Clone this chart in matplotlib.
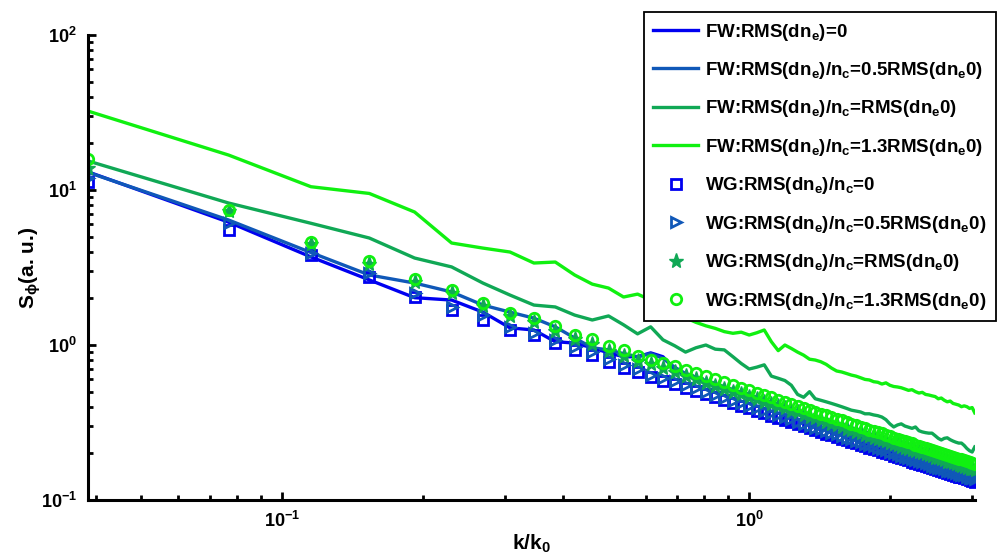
import numpy as np
import matplotlib
matplotlib.use("Agg")
import matplotlib.pyplot as plt

plt.rcParams['font.family'] = ['Liberation Sans', 'DejaVu Sans']
plt.rcParams['font.weight'] = 'bold'
plt.rcParams['mathtext.fontset'] = 'custom'
plt.rcParams['mathtext.rm'] = 'Liberation Sans:bold'
plt.rcParams['mathtext.it'] = 'Liberation Sans:bold'
plt.rcParams['mathtext.bf'] = 'Liberation Sans:bold'

# k/k0 grid (uniform step 1/26)
k = np.arange(1, 80) / 26.0

fw_0 = [13.1, 6.2, 3.7, 2.63, 2.02, 1.95, 1.63, 1.29, 1.25, 1.05,
        1.03, 0.96, 0.89, 0.84, 0.84, 0.89, 0.84, 0.70, 0.64, 0.61,
        0.58, 0.55, 0.52, 0.50, 0.48, 0.455, 0.44, 0.425, 0.41, 0.40,
        0.378, 0.37, 0.357, 0.345, 0.335, 0.326, 0.318, 0.31, 0.30, 0.292,
        0.285, 0.278, 0.27, 0.264, 0.258, 0.252, 0.247, 0.241, 0.236, 0.232,
        0.227, 0.222, 0.218, 0.214, 0.21, 0.206, 0.202, 0.199, 0.195, 0.192,
        0.189, 0.186, 0.183, 0.18, 0.177, 0.174, 0.171, 0.169, 0.166, 0.164,
        0.161, 0.159, 0.157, 0.155, 0.152, 0.15, 0.148, 0.146, 0.144]
fw_05 = [13.0, 6.4, 3.95, 2.83, 2.51, 2.2, 1.81, 1.63, 1.49, 1.31,
         1.11, 0.96, 0.93, 0.88, 0.84, 0.88, 0.82, 0.72, 0.655, 0.62,
         0.59, 0.565, 0.53, 0.51, 0.49, 0.462, 0.45, 0.432, 0.418, 0.40,
         0.39, 0.376, 0.364, 0.352, 0.341, 0.332, 0.324, 0.315, 0.306, 0.298,
         0.29, 0.283, 0.276, 0.27, 0.263, 0.257, 0.252, 0.246, 0.241, 0.236,
         0.231, 0.227, 0.222, 0.218, 0.214, 0.21, 0.206, 0.203, 0.199, 0.196,
         0.193, 0.19, 0.186, 0.183, 0.18, 0.178, 0.175, 0.172, 0.169, 0.167,
         0.164, 0.162, 0.16, 0.158, 0.155, 0.153, 0.151, 0.149, 0.147]
fw_1 = [15.4, 8.24, 6.1, 4.9, 3.64, 3.19, 2.51, 2.1, 1.81, 1.76,
        1.56, 1.45, 1.54, 1.35, 1.18, 1.31, 1.08, 0.99, 0.90, 0.96,
        1.0, 0.94, 0.93, 0.84, 0.76, 0.70, 0.72, 0.745, 0.63, 0.61,
        0.59, 0.55, 0.48, 0.46, 0.50, 0.45, 0.44, 0.43, 0.42, 0.41,
        0.40, 0.39, 0.38, 0.375, 0.37, 0.36, 0.36, 0.354, 0.35, 0.343,
        0.33, 0.31, 0.296, 0.305, 0.31, 0.30, 0.295, 0.29, 0.296, 0.28,
        0.275, 0.272, 0.27, 0.27, 0.26, 0.25, 0.244, 0.25, 0.252, 0.245,
        0.24, 0.236, 0.233, 0.233, 0.225, 0.215, 0.208, 0.204, 0.22]
fw_13 = [32.3, 16.8, 10.5, 9.5, 7.21, 4.55, 4.22, 3.98, 3.38, 3.43,
         2.83, 2.47, 2.33, 2.04, 2.13, 1.95, 1.8, 1.65, 1.5, 1.4,
         1.33, 1.28, 1.22, 1.19, 1.21, 1.16, 1.2, 1.25, 1.05, 0.92,
         1.0, 0.95, 0.90, 0.86, 0.81, 0.80, 0.78, 0.75, 0.71, 0.68,
         0.67, 0.655, 0.64, 0.63, 0.615, 0.60, 0.595, 0.58, 0.575, 0.56,
         0.57, 0.55, 0.54, 0.536, 0.53, 0.52, 0.51, 0.515, 0.50, 0.49,
         0.495, 0.48, 0.476, 0.47, 0.465, 0.45, 0.455, 0.44, 0.43, 0.435,
         0.42, 0.415, 0.41, 0.40, 0.405, 0.40, 0.39, 0.395, 0.365]

wg_0 = [11.3, 5.5, 3.8, 2.75, 2.04, 1.68, 1.45, 1.25, 1.16, 1.03,
        0.93, 0.86, 0.78, 0.71, 0.67, 0.62, 0.59, 0.56, 0.53, 0.505,
        0.48, 0.46, 0.44, 0.42, 0.405, 0.39, 0.375, 0.362, 0.35, 0.338,
        0.328, 0.318, 0.308, 0.299, 0.29, 0.282, 0.275, 0.268, 0.261, 0.255,
        0.249, 0.243, 0.237, 0.232, 0.227, 0.222, 0.217, 0.213, 0.209, 0.205,
        0.201, 0.197, 0.193, 0.19, 0.186, 0.183, 0.18, 0.177, 0.174, 0.171,
        0.168, 0.166, 0.163, 0.161, 0.158, 0.156, 0.154, 0.152, 0.149, 0.147,
        0.145, 0.143, 0.141, 0.14, 0.138, 0.136, 0.134, 0.133, 0.131]
wg_05 = [11.9, 6.1, 3.9, 2.9, 2.17, 1.76, 1.56, 1.31, 1.2, 1.07,
         0.97, 0.9, 0.81, 0.74, 0.70, 0.645, 0.615, 0.582, 0.551, 0.525,
         0.499, 0.478, 0.458, 0.437, 0.421, 0.406, 0.39, 0.376, 0.364, 0.352,
         0.341, 0.331, 0.32, 0.311, 0.302, 0.293, 0.286, 0.279, 0.271, 0.265,
         0.259, 0.253, 0.246, 0.241, 0.236, 0.231, 0.226, 0.222, 0.217, 0.213,
         0.209, 0.205, 0.201, 0.198, 0.193, 0.19, 0.187, 0.184, 0.181, 0.178,
         0.175, 0.173, 0.17, 0.167, 0.164, 0.162, 0.16, 0.158, 0.155, 0.153,
         0.151, 0.149, 0.147, 0.146, 0.144, 0.141, 0.139, 0.138, 0.136]
wg_1 = [13.9, 7.3, 4.5, 3.35, 2.55, 2.15, 1.78, 1.53, 1.4, 1.24,
        1.09, 1.01, 0.92, 0.85, 0.79, 0.75, 0.71, 0.666, 0.631, 0.601,
        0.571, 0.547, 0.524, 0.5, 0.482, 0.464, 0.446, 0.431, 0.417, 0.402,
        0.39, 0.378, 0.367, 0.356, 0.345, 0.336, 0.327, 0.319, 0.311, 0.303,
        0.296, 0.289, 0.282, 0.276, 0.27, 0.264, 0.258, 0.253, 0.249, 0.244,
        0.239, 0.234, 0.23, 0.226, 0.221, 0.218, 0.214, 0.211, 0.207, 0.203,
        0.2, 0.198, 0.194, 0.192, 0.188, 0.186, 0.183, 0.181, 0.177, 0.175,
        0.173, 0.17, 0.168, 0.167, 0.164, 0.162, 0.159, 0.158, 0.156]
wg_13 = [15.8, 7.43, 4.6, 3.5, 2.67, 2.26, 1.87, 1.61, 1.49, 1.33,
         1.16, 1.09, 0.985, 0.93, 0.85, 0.80, 0.765, 0.734, 0.694, 0.662,
         0.629, 0.603, 0.576, 0.55, 0.531, 0.511, 0.491, 0.474, 0.459, 0.443,
         0.43, 0.417, 0.403, 0.392, 0.38, 0.369, 0.36, 0.351, 0.342, 0.334,
         0.326, 0.318, 0.31, 0.304, 0.297, 0.291, 0.284, 0.279, 0.274, 0.269,
         0.263, 0.258, 0.253, 0.249, 0.244, 0.24, 0.236, 0.232, 0.228, 0.224,
         0.22, 0.217, 0.214, 0.211, 0.207, 0.204, 0.202, 0.199, 0.195, 0.193,
         0.19, 0.187, 0.185, 0.183, 0.181, 0.178, 0.176, 0.174, 0.172]

c_blue = '#0000F0'
c_steel = '#1058B8'
c_mgreen = '#10A855'
c_bgreen = '#10F010'

labels_fw = ['FW:RMS(dn$_e$)=0',
             'FW:RMS(dn$_e$)/n$_c$=0.5RMS(dn$_e$0)',
             'FW:RMS(dn$_e$)/n$_c$=RMS(dn$_e$0)',
             'FW:RMS(dn$_e$)/n$_c$=1.3RMS(dn$_e$0)']
labels_wg = ['WG:RMS(dn$_e$)/n$_c$=0',
             'WG:RMS(dn$_e$)/n$_c$=0.5RMS(dn$_e$0)',
             'WG:RMS(dn$_e$)/n$_c$=RMS(dn$_e$0)',
             'WG:RMS(dn$_e$)/n$_c$=1.3RMS(dn$_e$0)']

fig = plt.figure(figsize=(10.08, 5.59), dpi=100)
ax = fig.add_axes([0.0873, 0.1055, 0.8797, 0.8319])

lw = 2.4
ax.plot(k, fw_0, color=c_blue, lw=lw, label=labels_fw[0])
ax.plot(k, fw_05, color=c_steel, lw=lw, label=labels_fw[1])
ax.plot(k, fw_1, color=c_mgreen, lw=lw, label=labels_fw[2])
ax.plot(k, fw_13, color=c_bgreen, lw=lw, label=labels_fw[3])

ax.plot(k, wg_0, ls='none', marker='s', ms=6.5, mfc='none', mec=c_blue, mew=2.0, label=labels_wg[0])
ax.plot(k, wg_05, ls='none', marker='>', ms=7.5, mfc='none', mec=c_steel, mew=2.0, label=labels_wg[1])
ax.plot(k, wg_1, ls='none', marker='*', ms=11, mfc=c_mgreen, mec=c_mgreen, mew=1.0, label=labels_wg[2])
ax.plot(k, wg_13, ls='none', marker='o', ms=7.5, mfc='none', mec=c_bgreen, mew=2.0, label=labels_wg[3])

ax.set_xscale('log')
ax.set_yscale('log')
ax.set_xlim(1 / 26.0, 79 / 26.0)
ax.set_ylim(0.1, 100)

for s in ['top', 'right']:
    ax.spines[s].set_visible(False)
for s in ['left', 'bottom']:
    ax.spines[s].set_linewidth(2.2)

ax.tick_params(which='major', direction='in', length=6, width=2, labelsize=13, pad=8)
ax.tick_params(which='minor', direction='in', length=3.5, width=2)

ax.set_xlabel('k/k$_0$', fontsize=15, fontweight='bold', labelpad=1)
ax.set_ylabel('S$_\\phi$(a. u.)', fontsize=15, fontweight='bold', labelpad=-2)

leg = fig.legend(loc='upper right', bbox_to_anchor=(0.997, 0.995), fontsize=13.5,
                 numpoints=1, handlelength=2.4, handletextpad=0.35,
                 labelspacing=0.93, borderpad=0.5, fancybox=False,
                 framealpha=1, edgecolor='black')
leg.get_frame().set_linewidth(1.3)

fig.savefig('out.png', dpi=100)
